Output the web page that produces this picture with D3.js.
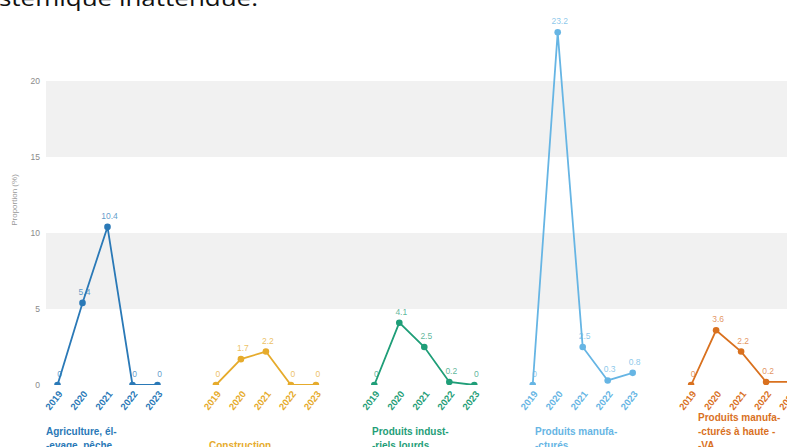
<!DOCTYPE html>
<html>
<head>
<meta charset="utf-8">
<script src="https://cdn.jsdelivr.net/npm/d3@7"></script>
<style>
  body { margin: 0; background: #fff; }
  svg { display: block; font-family: "Liberation Sans", Arial, sans-serif; }
</style>
</head>
<body>
<div id="chart"></div>
<script>
// data
const years = ['2019', '2020', '2021', '2022', '2023'];
const categories = ['agri', 'constr', 'lourds', 'manuf', 'hauteva'];
const titles = [
  ['Agriculture, él-', '-evage, pêche'],
  ['Construction'],
  ['Produits indust-', '-riels lourds'],
  ['Produits manufa-', '-cturés'],
  ['Produits manufa-', '-cturés à haute -', '-VA']
];
const agri = [0, 5.4, 10.4, 0, 0];
const constr = [0, 1.7, 2.2, 0, 0];
const lourds = [0, 4.1, 2.5, 0.2, 0];
const manuf = [0, 23.2, 2.5, 0.3, 0.8];
const hauteva = [0, 3.6, 2.2, 0.2, 0.2];
const series = [agri, constr, lourds, manuf, hauteva];
const colors = ['#2a79b7', '#e6ab2c', '#1f9e78', '#66b5e4', '#d9711f'];
const yTicks = [0, 5, 10, 15, 20];
const bands = [[5, 10], [15, 20]];

const width = 787, height = 447;

const svg = d3.select('#chart').append('svg')
    .attr('width', width)
    .attr('height', height);

// cut-off line of text from the document above the chart
svg.append('text')
    .attr('x', -1)
    .attr('y', 6)
    .attr('font-family', '"Open Sans", sans-serif')
    .attr('font-size', 22)
    .attr('fill', '#111')
    .attr('textLength', 259)
    .attr('lengthAdjust', 'spacingAndGlyphs')
    .text('stémique inattendue.');

const y = d3.scaleLinear().domain([0, 25]).range([385, 5]);

const panel = d3.scaleBand()
    .domain(categories)
    .range([45, 45 + 158.4 * categories.length]);

const x = d3.scalePoint()
    .domain(years)
    .range([0, 125])
    .padding(0.5);

const titleX = d3.scaleBand()
    .domain(categories)
    .range([46, 46 + 163 * categories.length]);

// background bands
svg.append('g')
  .selectAll('rect')
  .data(bands)
  .join('rect')
    .attr('x', 46)
    .attr('width', width - 46)
    .attr('y', d => y(d[1]))
    .attr('height', d => y(d[0]) - y(d[1]))
    .attr('fill', '#f1f1f1');

// y axis, labels only
const yAxis = svg.append('g')
    .attr('transform', 'translate(40,0)')
    .call(d3.axisLeft(y).tickValues(yTicks).tickSize(0).tickPadding(0));
yAxis.select('.domain').remove();
yAxis.selectAll('text')
    .attr('fill', '#8a8a8a')
    .attr('font-size', 8.5);

svg.append('text')
    .attr('transform', 'translate(17,200) rotate(-90)')
    .attr('text-anchor', 'middle')
    .attr('font-size', 8)
    .attr('fill', '#999')
    .text('Proportion (%)');

svg.append('defs').append('clipPath')
    .attr('id', 'clip')
  .append('rect')
    .attr('x', 0).attr('y', 0)
    .attr('width', width).attr('height', y(0));

const line = d3.line()
    .x((d, i) => x(years[i]))
    .y(d => y(d));

categories.forEach((cat, k) => {
  const color = colors[k];
  const vals = series[k];
  const g = svg.append('g')
      .attr('transform', `translate(${panel(cat)},0)`);

  const marks = g.append('g').attr('clip-path', 'url(#clip)');
  marks.append('path')
      .datum(vals)
      .attr('fill', 'none')
      .attr('stroke', color)
      .attr('stroke-width', 1.8)
      .attr('d', line);

  marks.selectAll('circle')
    .data(vals)
    .join('circle')
      .attr('cx', (d, i) => x(years[i]))
      .attr('cy', d => y(d))
      .attr('r', 3.3)
      .attr('fill', color);

  g.selectAll('.val')
    .data(vals)
    .join('text')
      .attr('class', 'val')
      .attr('x', (d, i) => x(years[i]) + 2)
      .attr('y', d => y(d) - 8)
      .attr('text-anchor', 'middle')
      .attr('font-size', 8.5)
      .attr('fill', color)
      .attr('fill-opacity', 0.75)
      .text(d => d);

  g.selectAll('.yr')
    .data(years)
    .join('text')
      .attr('class', 'yr')
      .attr('transform', d => `translate(${x(d) + 3},${y(0) + 7}) rotate(-52)`)
      .attr('text-anchor', 'end')
      .attr('dy', '0.35em')
      .attr('font-size', 9.5)
      .attr('font-weight', 'bold')
      .attr('fill', color)
      .text(d => d);

  const lines = titles[k];
  svg.append('g')
    .selectAll('text')
    .data(lines)
    .join('text')
      .attr('x', titleX(cat))
      .attr('y', (d, i) => 449 - (lines.length - 1 - i) * 14)
      .attr('font-size', 10)
      .attr('font-weight', 'bold')
      .attr('fill', color)
      .text(d => d);
});
</script>
</body>
</html>
